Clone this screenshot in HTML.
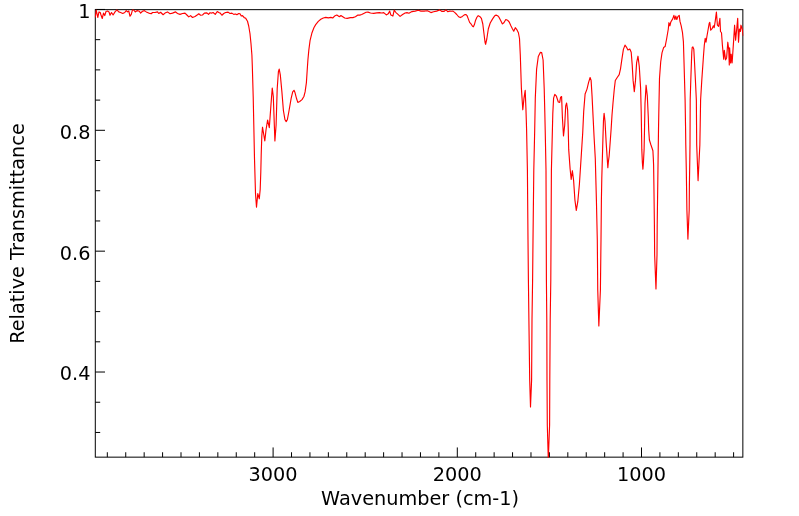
<!DOCTYPE html>
<html>
<head>
<meta charset="utf-8">
<title>IR Spectrum</title>
<style>
html, body { margin: 0; padding: 0; background: #ffffff; }
body { width: 799px; height: 516px; overflow: hidden; }
svg { display: block; }
text { font-family: "DejaVu Sans", "Liberation Sans", sans-serif; font-size: 19.3px; fill: #000000; }
</style>
</head>
<body>
<svg width="799" height="516" viewBox="0 0 799 516">
<rect x="0" y="0" width="799" height="516" fill="#ffffff"/>
<defs><clipPath id="plotclip"><rect x="94.8" y="9.15" width="648.5500000000001" height="448.5"/></clipPath></defs>
<g stroke="#000000" stroke-width="1" fill="none">
<line x1="733.60" y1="457.15" x2="733.60" y2="452.25"/>
<line x1="715.18" y1="457.15" x2="715.18" y2="452.25"/>
<line x1="696.76" y1="457.15" x2="696.76" y2="452.25"/>
<line x1="678.34" y1="457.15" x2="678.34" y2="452.25"/>
<line x1="659.92" y1="457.15" x2="659.92" y2="452.25"/>
<line x1="641.50" y1="457.15" x2="641.50" y2="447.45"/>
<line x1="623.08" y1="457.15" x2="623.08" y2="452.25"/>
<line x1="604.66" y1="457.15" x2="604.66" y2="452.25"/>
<line x1="586.24" y1="457.15" x2="586.24" y2="452.25"/>
<line x1="567.82" y1="457.15" x2="567.82" y2="452.25"/>
<line x1="549.40" y1="457.15" x2="549.40" y2="452.25"/>
<line x1="530.98" y1="457.15" x2="530.98" y2="452.25"/>
<line x1="512.56" y1="457.15" x2="512.56" y2="452.25"/>
<line x1="494.14" y1="457.15" x2="494.14" y2="452.25"/>
<line x1="475.72" y1="457.15" x2="475.72" y2="452.25"/>
<line x1="457.30" y1="457.15" x2="457.30" y2="447.45"/>
<line x1="438.88" y1="457.15" x2="438.88" y2="452.25"/>
<line x1="420.46" y1="457.15" x2="420.46" y2="452.25"/>
<line x1="402.04" y1="457.15" x2="402.04" y2="452.25"/>
<line x1="383.62" y1="457.15" x2="383.62" y2="452.25"/>
<line x1="365.20" y1="457.15" x2="365.20" y2="452.25"/>
<line x1="346.78" y1="457.15" x2="346.78" y2="452.25"/>
<line x1="328.36" y1="457.15" x2="328.36" y2="452.25"/>
<line x1="309.94" y1="457.15" x2="309.94" y2="452.25"/>
<line x1="291.52" y1="457.15" x2="291.52" y2="452.25"/>
<line x1="273.10" y1="457.15" x2="273.10" y2="447.45"/>
<line x1="254.68" y1="457.15" x2="254.68" y2="452.25"/>
<line x1="236.26" y1="457.15" x2="236.26" y2="452.25"/>
<line x1="217.84" y1="457.15" x2="217.84" y2="452.25"/>
<line x1="199.42" y1="457.15" x2="199.42" y2="452.25"/>
<line x1="181.00" y1="457.15" x2="181.00" y2="452.25"/>
<line x1="162.58" y1="457.15" x2="162.58" y2="452.25"/>
<line x1="144.16" y1="457.15" x2="144.16" y2="452.25"/>
<line x1="125.74" y1="457.15" x2="125.74" y2="452.25"/>
<line x1="107.32" y1="457.15" x2="107.32" y2="452.25"/>
<line x1="95.3" y1="9.45" x2="105.0" y2="9.45"/>
<line x1="95.3" y1="39.67" x2="100.2" y2="39.67"/>
<line x1="95.3" y1="69.88" x2="100.2" y2="69.88"/>
<line x1="95.3" y1="100.10" x2="100.2" y2="100.10"/>
<line x1="95.3" y1="130.31" x2="105.0" y2="130.31"/>
<line x1="95.3" y1="160.52" x2="100.2" y2="160.52"/>
<line x1="95.3" y1="190.74" x2="100.2" y2="190.74"/>
<line x1="95.3" y1="220.96" x2="100.2" y2="220.96"/>
<line x1="95.3" y1="251.17" x2="105.0" y2="251.17"/>
<line x1="95.3" y1="281.38" x2="100.2" y2="281.38"/>
<line x1="95.3" y1="311.60" x2="100.2" y2="311.60"/>
<line x1="95.3" y1="341.81" x2="100.2" y2="341.81"/>
<line x1="95.3" y1="372.03" x2="105.0" y2="372.03"/>
<line x1="95.3" y1="402.24" x2="100.2" y2="402.24"/>
<line x1="95.3" y1="432.46" x2="100.2" y2="432.46"/>
</g>
<rect x="95.3" y="9.65" width="647.5500000000001" height="447.5" fill="none" stroke="#000000" stroke-width="1"/>
<polyline clip-path="url(#plotclip)" fill="none" stroke="#ff0000" stroke-width="1.15" stroke-linejoin="round" points="95.25,17.5 96.25,10 97.75,17.5 99,11.9 100.25,12.5 101,15 102.25,18.5 103.5,13.1 104.75,15.6 106,11.5 107.5,11 109,11.9 110,15.25 111.5,12.5 113.1,15 115,11.9 116.9,9.9 118.75,11.9 120.6,12.5 122.75,13.5 124.75,12.5 126.25,10.6 127.5,11.9 128.75,11 130,16.25 131.25,14.4 132.5,9.9 133.75,10 135.25,11.9 137.25,10.6 139.4,11.25 140.6,13.1 142.5,11.25 144.4,10.6 146.25,11.9 148.75,13.1 151.25,13.75 152.5,12.5 155,12.5 157.5,11.9 158.75,13.5 160.6,12.25 163.1,14.75 165,13.1 167.5,11.9 170,13.75 172.5,13.1 175.6,11.9 177.5,13.5 180,14.4 182.5,13.5 185,13.1 186.9,15 188.75,16.9 190.6,15.6 192.5,17.5 195,16.5 197.5,14.75 198.75,13.75 200.6,15.25 202.5,15 204.4,13.1 206.9,12.9 208.5,14.4 210,12.75 211.9,13.1 213.1,12.5 215.25,14.4 217.25,11.5 218.75,12.5 220.25,13.1 221.9,15.25 223.75,13.5 225.6,12.5 228.1,12.1 230,13.5 231.9,13.1 233.75,14.4 235.6,14 236.9,14.75 238.75,13.5 240,13.75 241.25,16 242.5,15.6 244.4,17.75 245.6,18.1 247.5,21.25 248.75,26.25 250,33.75 251,43.75 251.9,55 252.3,65.5 253.2,96.5 253.8,125 254.5,158.8 255.5,193.6 256.5,207.2 257.8,193.6 259.3,198.8 260.2,189.4 260.8,172 261.2,155 261.8,136 262.5,127.2 264.8,141 266,130 267.6,120 269.3,127.6 271,104.3 272.25,88 273.3,96.5 274.9,140.9 276.1,125 277.2,88.8 278.4,71.7 279.2,69.1 280.3,74.8 281.9,91.9 283.4,110.5 285,119.8 286.2,121.6 287.3,119.8 288.8,112 291.2,98.1 292.7,91.9 294,90.3 295,92.6 296.6,98.8 297.8,102.4 299.7,101.5 302,99.6 303.9,96.5 305.1,91.9 306.4,82.6 307.2,70.2 307.9,60 308.8,50.4 310.1,40.3 312,32.7 313.9,27.7 315.7,24.6 318.3,21.4 320.8,19.3 323.3,18 325.8,17.4 328.3,17.9 330.9,17.4 332.7,18 334.6,16.1 336.8,15.1 338.4,16.1 339.7,16.6 340.9,15.5 342.8,16.75 344.7,18 347.2,18.4 350.4,17.6 352.9,17.6 355.4,16.75 357.9,15.1 359.8,15.1 361.7,14.5 364.2,13.2 366.1,12.3 368,12.1 370.5,13 373.7,13.35 376.8,12.85 379.3,12.6 381.9,13 383.75,12.6 386.3,14.9 388.2,13.85 389.7,11.1 390.9,15.1 392.9,16.1 394.2,10.1 395.7,12.3 397.7,14.2 400.1,16.4 402.6,14.5 405.1,13 407,12.6 408.9,13.2 412,11.6 415.2,11.1 418.3,10.3 420.9,11.1 424,11.1 427.2,10.7 429,11.6 430.9,12.6 433.5,11.7 436.6,11.1 439.7,9.9 441.6,11.3 444.2,11.3 446,9.9 447.7,11.7 449.8,11.1 451.7,11.3 453,11.1 454.9,12.6 456.75,14.5 458.6,16.75 460.3,17.6 462.4,16.4 464.3,14.9 465.8,14.5 467.1,15.7 468.3,18.9 469.6,22.4 471.2,24.2 472.5,26.2 473.4,26.8 474.4,24.6 475.6,20.2 476.9,17.25 478.2,15.7 479.7,16.4 481.4,18.4 482.8,24 483.9,33 485,42 485.6,44.3 486.8,39 488.3,29 490.2,23 492.6,18.9 494.5,16.1 496.1,15.1 497.6,15.7 499.1,17.4 500.8,20.8 502.4,23.9 503.9,22.7 505.8,19.5 507.5,20.2 509.2,22 510.9,25.8 512.5,29 513.75,31.2 515.3,27.7 516.8,29.6 518.4,32.75 519.5,38.5 520.3,55 521.4,88.4 522.8,109.8 524,98.1 525.2,90.4 525.9,107.8 526.3,120 526.6,130 527.4,170 528.0,240 528.4,280 528.9,320 529.7,380 530.5,406.9 531.6,380 532.0,320 532.6,280 533.0,240 533.8,170 534.7,130 535.3,98.1 536.6,69.1 538.3,56.5 540.3,52.4 541.7,52.6 543.1,60 544.2,88.4 544.8,112 545.2,130 546,170 546.2,225 546.4,280 546.8,320 547.0,380 547.3,425 548.3,459.5 549.6,425 549.8,380 550.2,320 550.8,280 551.1,225 551.4,170 552.4,130 552.8,113.6 553.6,98.1 554.8,94.3 556.4,96.2 558.3,102 559.7,102.4 560.6,97.2 561.6,96.6 562.4,117.5 563.5,135.9 564.7,125.3 565.7,105.9 566.6,103 567.6,109.8 568.2,127.2 568.7,149.4 570.1,168.8 571.2,179.4 572.4,170.7 573.6,180.4 574.9,199.8 576.3,210.4 577.8,201.7 579.4,184.3 581.3,155 582.7,133 583.7,111.4 585.1,94 587,89.1 588.6,82.3 590.1,77.5 591.1,80.4 592.05,95.9 593,115.3 594,135.5 595.3,158.8 596.0,185 596.4,200 597.3,240 597.75,290 598.85,326 600.4,290 601.0,240 601.4,200 601.8,178.1 602.9,139.4 603.5,120 604.1,113.3 605,121.1 606.2,143.3 607.85,167.6 608.4,161.5 609.15,156 610.3,140.5 611.2,128 612.0,115 613.0,103 614.2,90 615.3,80.5 617.2,77.5 619.2,74.6 620.5,68.8 621.9,59.1 623.4,49.4 625,45.1 626.4,47.05 627.9,50 629.8,49 631.2,52.3 632.2,64.9 633.1,80.4 634.3,91.6 635.5,80.4 636.6,62.9 638,56.2 639.3,66.8 640.6,88.1 641.2,111.4 641.5,130 641.8,149.4 642.4,163 642.9,169.2 643.4,163 644.1,149.4 644.5,130 645,103.6 646.1,85.2 647.3,95.9 648.3,117.2 648.7,130 649.4,140 650.8,144.5 652.0,148 652.9,150.7 653.3,158 653.6,165 653.9,185 654.4,225 654.65,255 655.97,288.9 657.0,255 657.2,225 657.75,185 657.95,170 658.5,130 658.8,113.1 659.5,78.3 660.7,62 662,52.9 663.6,47.6 665.1,46.6 666.6,39 668.3,29 668.9,22.7 669.9,25.8 670.8,22 672.7,18.9 673.9,15.4 674.9,19.5 675.8,16.1 676.8,19.5 678,16.4 679.2,15.4 680,21.4 681.2,25.8 682.5,32.7 683.4,41.6 683.95,60 685.1,100 685.6,130 685.8,145 686.3,170 686.6,190 686.9,210 687.9,239.1 689.2,210 689.4,185 689.8,160 690.0,145 690.2,100 690.8,80 691.5,60 691.8,52 692.2,47.5 692.9,46.85 693.8,49.1 694.4,60 695.4,80 696.35,100 696.55,125 696.7,145 698.06,180.6 699.85,145 700.2,125 700.6,100 701.8,80 703.2,60 703.6,54.2 704.3,45.3 705.2,38.4 706,42.2 706.9,36.5 708.2,29 709.2,23.3 709.8,22.4 710.7,30.2 712.3,28.3 713.4,25.8 714.2,27.7 715.2,21.4 716.4,12 717.4,25.2 718.6,26.4 719.9,18.3 720.5,31.5 721.5,32.75 722.4,45.3 723.7,59.2 724.3,50.4 725.6,59.8 726.6,57.9 727.8,42.2 728.7,49.1 729.3,65 729.6,47.9 730.6,63 731.2,54.2 732.1,63 733.4,44.1 734.6,25.2 735.6,40.3 736.6,30.2 737.7,18.3 738.5,42.2 739.4,29 740.4,31.5 740.9,25.2 742.2,29 743.2,35.9"/>
<g>
<text x="273.10" y="480.5" text-anchor="middle">3000</text>
<text x="457.30" y="480.5" text-anchor="middle">2000</text>
<text x="641.50" y="480.5" text-anchor="middle">1000</text>
<text x="90.5" y="17.8" text-anchor="end">1</text>
<text x="90.5" y="139.3" text-anchor="end">0.8</text>
<text x="90.5" y="259.9" text-anchor="end">0.6</text>
<text x="90.5" y="379.9" text-anchor="end">0.4</text>
<text x="420.1" y="505.2" text-anchor="middle">Wavenumber (cm-1)</text>
<text transform="translate(24.1,233.5) rotate(-90)" text-anchor="middle">Relative Transmittance</text>
</g>
</svg>
</body>
</html>
